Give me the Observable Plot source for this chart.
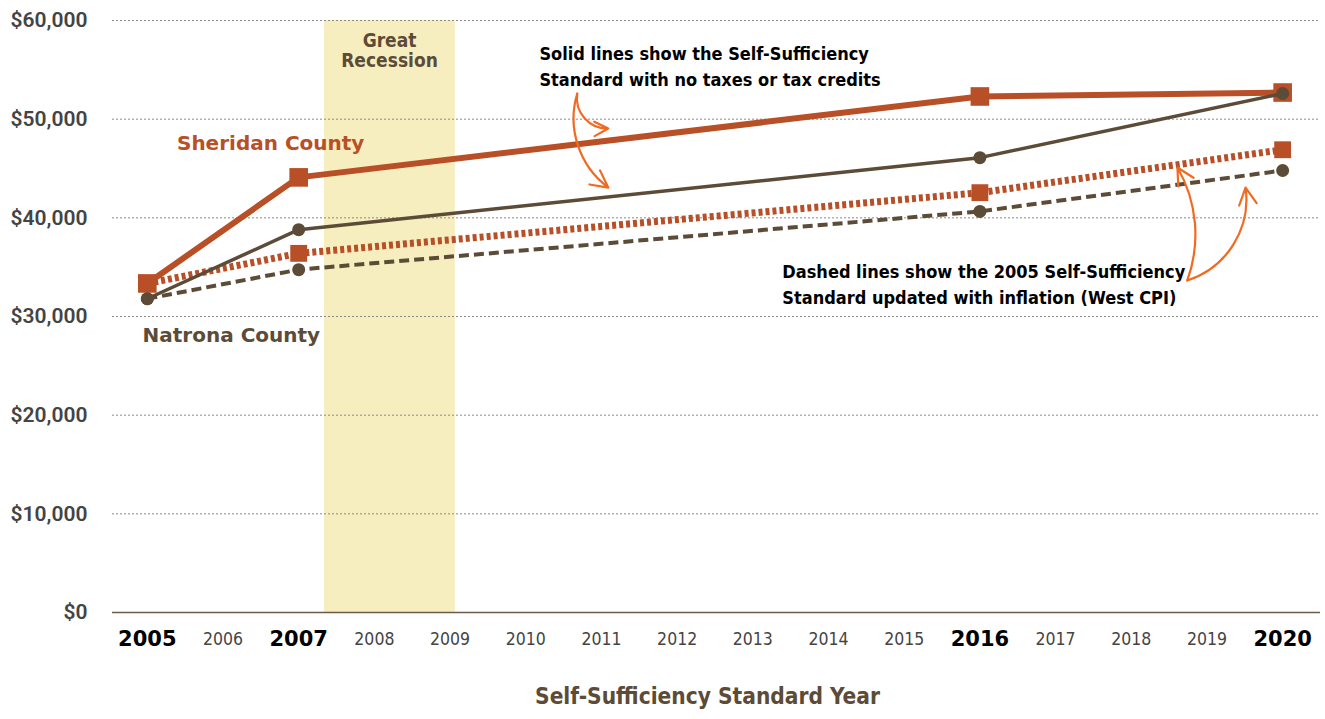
<!DOCTYPE html>
<html>
<head>
<meta charset="utf-8">
<script src="https://cdn.jsdelivr.net/npm/d3@7"></script>
<script src="https://cdn.jsdelivr.net/npm/@observablehq/plot@0.6"></script>
<style>
  body { margin: 0; background: #fff; }
  #chart svg { display: block; }
</style>
</head>
<body>
<div id="chart"></div>
<script>
// ---- data ----
const years = [2005, 2007, 2016, 2020];
const sheridanSolid  = [33350, 44100, 52300, 52700];
const natronaSolid   = [31800, 38800, 46100, 52600];
const sheridanDashed = [33350, 36400, 42550, 46900];
const natronaDashed  = [31800, 34750, 40650, 44800];
const allYears = d3.range(2005, 2021);
const boldYears = [2005, 2007, 2016, 2020];
const yTicks = [0, 10000, 20000, 30000, 40000, 50000, 60000];
const recession = [{start: 2007.34, end: 2009.07}];

const ORANGE = "#b84f26";
const BROWN = "#5c4b37";
const ARROW = "#f26a21";
const NARROW = "'Liberation Sans Narrow', 'Arial Narrow', 'DejaVu Sans Condensed', sans-serif";
const HEAVY = "'DejaVu Sans', Verdana, sans-serif";

const series = (vals) => years.map((y, i) => ({year: y, value: vals[i]}));
const sS = series(sheridanSolid), nS = series(natronaSolid);
const sD = series(sheridanDashed), nD = series(natronaDashed);

const annotations = [
  {x: 2010.18, y: 55540, text: "Solid lines show the Self-Sufficiency\nStandard with no taxes or tax credits"},
  {x: 2013.39, y: 33450, text: "Dashed lines show the 2005 Self-Sufficiency\nStandard updated with inflation (West CPI)"}
];
const arrows = [
  {x1: 2010.68, y1: 52600, x2: 2011.09, y2: 49050, bend: -50},
  {x1: 2010.68, y1: 52600, x2: 2011.09, y2: 43070, bend: -35},
  {x1: 2018.74, y1: 33650, x2: 2018.61, y2: 45100, bend: -25},
  {x1: 2018.74, y1: 33650, x2: 2019.51, y2: 43070, bend: -40}
];

const arrowMarks = arrows.map(a => Plot.arrow([a], {x1: "x1", y1: "y1", x2: "x2", y2: "y2", bend: a.bend,
  stroke: ARROW, strokeWidth: 2.2, headLength: 13, headAngle: 55}));

const chart = Plot.plot({
  width: 1325,
  height: 719,
  marginLeft: 112,
  marginRight: 5,
  marginTop: 20,
  marginBottom: 107,
  x: {domain: [2004.54, 2020.5], axis: null},
  y: {domain: [0, 60000], axis: null},
  style: {background: "#fff"},
  marks: [
    Plot.rect(recession, {x1: "start", x2: "end", y1: 0, y2: 60000, fill: "#f7eec0"}),
    Plot.ruleY(yTicks.filter(d => d > 0), {stroke: "#8a8a8a", strokeWidth: 1, strokeDasharray: "2,2"}),
    Plot.ruleY([0], {stroke: "#6b5a45", strokeWidth: 1.5}),
    // y tick labels
    Plot.text(yTicks, {y: d => d, text: d => "$" + d3.format(",")(d), frameAnchor: "left", dx: -25, textAnchor: "end",
      fontSize: 21, fontWeight: 600, fill: "#444", fontFamily: "Roboto, 'Liberation Sans', sans-serif"}),
    // x tick labels
    Plot.text(allYears.filter(d => !boldYears.includes(d)), {x: d => d, y: 0, dy: 27, text: d => String(d),
      fontSize: 17.5, fill: "#444", fontFamily: NARROW}),
    Plot.text(boldYears, {x: d => d, y: 0, dy: 27, text: d => String(d),
      fontSize: 21, fontWeight: 900, fill: "#000", fontFamily: HEAVY}),
    // x axis title
    Plot.text(["Self-Sufficiency Standard Year"], {frameAnchor: "bottom", dy: 91, dx: -9, text: d => d,
      fontSize: 22.5, fontWeight: "bold", fill: BROWN, fontFamily: NARROW}),
    // recession label
    Plot.text(["Great\nRecession"], {x: 2008.2, y: 56960, text: d => d, lineHeight: 1.05,
      fontSize: 19, fontWeight: "bold", fill: BROWN, fontFamily: NARROW}),
    // series labels
    Plot.text(["Sheridan County"], {x: 2006.63, y: 47500, text: d => d, fontSize: 20, fontWeight: 900, fill: ORANGE, fontFamily: HEAVY}),
    Plot.text(["Natrona County"], {x: 2006.11, y: 28070, text: d => d, fontSize: 20, fontWeight: 900, fill: BROWN, fontFamily: HEAVY}),
    // dashed lines
    Plot.line(sD, {x: "year", y: "value", stroke: ORANGE, strokeWidth: 7, strokeDasharray: "4,3", strokeLinecap: "butt"}),
    Plot.dot(sD, {x: "year", y: "value", symbol: "square", r: 9.5, fill: ORANGE}),
    Plot.line(nD, {x: "year", y: "value", stroke: BROWN, strokeWidth: 4, strokeDasharray: "10,5", strokeLinecap: "butt"}),
    Plot.dot(nD, {x: "year", y: "value", r: 6.5, fill: BROWN}),
    // solid lines
    Plot.line(sS, {x: "year", y: "value", stroke: ORANGE, strokeWidth: 6}),
    Plot.dot(sS, {x: "year", y: "value", symbol: "square", r: 10.5, fill: ORANGE}),
    Plot.line(nS, {x: "year", y: "value", stroke: BROWN, strokeWidth: 3.5}),
    Plot.dot(nS, {x: "year", y: "value", r: 6.5, fill: BROWN}),
    // annotations
    Plot.text(annotations, {x: "x", y: "y", text: "text", textAnchor: "start", lineHeight: 1.45,
      fontSize: 18, fontWeight: "bold", fill: "#000", fontFamily: NARROW}),
    ...arrowMarks
  ]
});
document.getElementById("chart").appendChild(chart);
</script>
</body>
</html>
